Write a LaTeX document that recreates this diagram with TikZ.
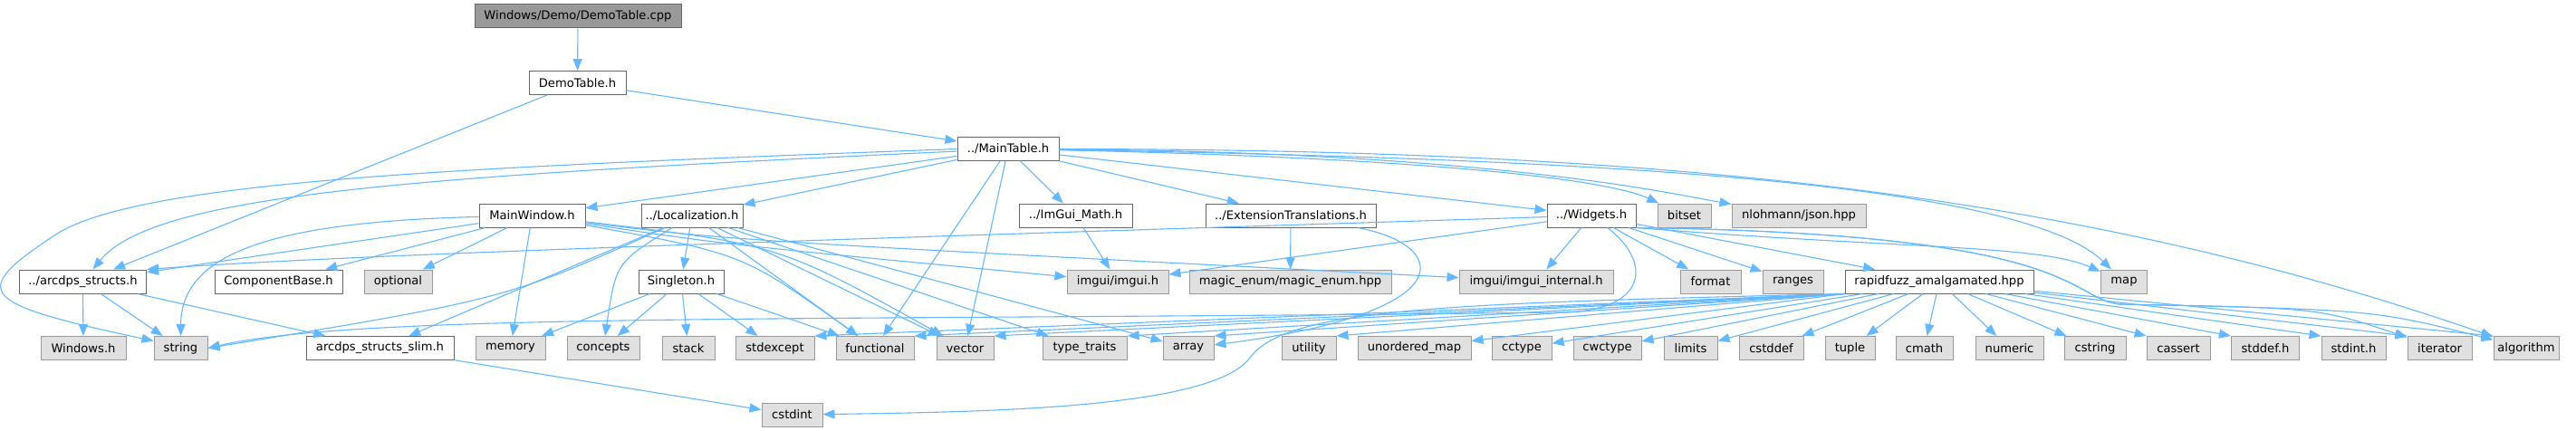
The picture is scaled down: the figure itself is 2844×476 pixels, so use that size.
\documentclass[tikz,border=0pt]{standalone}
\usepackage{fontspec}
\setmainfont{DejaVu Sans}
\usetikzlibrary{arrows.meta}
\definecolor{edgeblue}{HTML}{63B8FF}
\definecolor{hdrline}{HTML}{666666}
\definecolor{sysline}{HTML}{999999}
\definecolor{sysfill}{HTML}{E0E0E0}
\definecolor{rootfill}{HTML}{999999}
\begin{document}
\begin{tikzpicture}[x=1pt, y=-1pt,
box node/.style={rectangle, draw, line width=1pt, minimum height=26pt, inner sep=0pt, font=\fontsize{13.1}{15}\selectfont},
head node/.style={box node, draw=hdrline, fill=white},
sys node/.style={box node, draw=sysline, fill=sysfill},
root node/.style={box node, draw=hdrline, fill=rootfill},
inc/.style={draw=edgeblue, line width=1.1pt, -{Triangle[length=13pt,width=10pt]}}]%
\fill[white] (0,0) rectangle (2844,476);
\useasboundingbox (0,0) rectangle (2844,476);
\begin{scope}
\node[root node, minimum width=228] (cpp) at (638,18) {Windows/Demo/DemoTable.cpp};
\node[head node, minimum width=107] (demotable) at (637.5,91.5) {DemoTable.h};
\node[head node, minimum width=112] (maintable) at (1113,164.5) {../MainTable.h};
% row 3
\node[head node, minimum width=117] (mainwin) at (587.5,238) {MainWindow.h};
\node[head node, minimum width=112] (loc) at (764,238) {../Localization.h};
\node[head node, minimum width=125] (imguimath) at (1187.5,238) {../ImGui\_Math.h};
\node[head node, minimum width=188] (exttrans) at (1425,238) {../ExtensionTranslations.h};
\node[head node, minimum width=98] (widgets) at (1757,238) {../Widgets.h};
\node[sys node, minimum width=59] (bitset) at (1859.5,238) {bitset};
\node[sys node, minimum width=148] (json) at (1986,238) {nlohmann/json.hpp};
% row 4
\node[head node, minimum width=140] (arcdps) at (91.5,311) {../arcdps\_structs.h};
\node[head node, minimum width=141] (compbase) at (307.5,311) {ComponentBase.h};
\node[sys node, minimum width=75] (optional) at (439.5,311) {optional};
\node[head node, minimum width=94] (singleton) at (752,311) {Singleton.h};
\node[sys node, minimum width=112] (imgui) at (1234,311) {imgui/imgui.h};
\node[sys node, minimum width=223] (magicenum) at (1424.5,311) {magic\_enum/magic\_enum.hpp};
\node[sys node, minimum width=170] (imguiint) at (1696,311) {imgui/imgui\_internal.h};
\node[sys node, minimum width=67] (format) at (1888.5,311) {format};
\node[sys node, minimum width=67] (ranges) at (1979.5,311) {ranges};
\node[head node, minimum width=208] (rapidfuzz) at (2141,311) {rapidfuzz\_amalgamated.hpp};
\node[sys node, minimum width=51] (map) at (2345,311) {map};
% row 5
\node[sys node, minimum width=94] (windowsh) at (92,384.5) {Windows.h};
\node[sys node, minimum width=59] (string) at (199.5,384.5) {string};
\node[head node, minimum width=163] (slim) at (419.5,384.5) {arcdps\_structs\_slim.h};
\node[sys node, minimum width=77] (memory) at (563.5,384.5) {memory};
\node[sys node, minimum width=80] (concepts) at (666,384.5) {concepts};
\node[sys node, minimum width=58] (stack) at (760,384.5) {stack};
\node[sys node, minimum width=87] (stdexcept) at (855.5,384.5) {stdexcept};
\node[sys node, minimum width=86] (functional) at (966,384.5) {functional};
\node[sys node, minimum width=63] (vector) at (1065.5,384.5) {vector};
\node[sys node, minimum width=93] (typetraits) at (1197.5,384.5) {type\_traits};
\node[sys node, minimum width=56] (array) at (1312,384.5) {array};
\node[sys node, minimum width=60] (utility) at (1445,384.5) {utility};
\node[sys node, minimum width=125] (unorderedmap) at (1561.5,384.5) {unordered\_map};
\node[sys node, minimum width=66] (cctype) at (1680,384.5) {cctype};
\node[sys node, minimum width=75] (cwctype) at (1774.5,384.5) {cwctype};
\node[sys node, minimum width=59] (limits) at (1866.5,384.5) {limits};
\node[sys node, minimum width=71] (cstddef) at (1955.5,384.5) {cstddef};
\node[sys node, minimum width=55] (tuple) at (2042.5,384.5) {tuple};
\node[sys node, minimum width=63] (cmath) at (2124.5,384.5) {cmath};
\node[sys node, minimum width=75] (numeric) at (2218.5,384.5) {numeric};
\node[sys node, minimum width=68] (cstring) at (2313,384.5) {cstring};
\node[sys node, minimum width=70] (cassert) at (2405,384.5) {cassert};
\node[sys node, minimum width=75] (stddefh) at (2501,384.5) {stddef.h};
\node[sys node, minimum width=71] (stdinth) at (2598.5,384.5) {stdint.h};
\node[sys node, minimum width=71] (iterator) at (2693.5,384.5) {iterator};
\node[sys node, minimum width=72] (algorithm) at (2789,384.5) {algorithm};
% row 6
\node[sys node, minimum width=67] (cstdint) at (874.5,458) {cstdint};
\end{scope}
\begin{scope}
\draw[inc] (cpp) -- (demotable);
\draw[inc] (demotable) -- (maintable);
\draw[inc] (demotable) -- (arcdps);
% MainTable.h
\draw[inc] (maintable) -- (mainwin);
\draw[inc] (maintable) -- (loc);
\draw[inc] (maintable) -- (imguimath);
\draw[inc] (maintable) -- (exttrans);
\draw[inc] (maintable) -- (widgets);
\draw[inc] (maintable) .. controls (1600,175) and (1780,200) .. (bitset);
\draw[inc] (maintable) .. controls (1650,168) and (1850,215) .. (json);
\draw[inc] (maintable) .. controls (1750,175) and (2230,200) .. (map);
\draw[inc] (maintable) .. controls (1850,165) and (2300,215) .. (algorithm);
\draw[inc] (maintable) .. controls (450,195) and (170,215) .. (arcdps);
\draw[inc] (maintable.west) .. controls (500,185) and (150,200) .. (60,260) .. controls (-35,323) and (-25,335) .. (string.165);
\draw[inc] (maintable) -- (functional);
\draw[inc] (maintable) -- (vector);
% MainWindow.h
\draw[inc] (mainwin) -- (arcdps);
\draw[inc] (mainwin) -- (compbase);
\draw[inc] (mainwin) -- (optional);
\draw[inc] (mainwin) -- (memory);
\draw[inc] (mainwin) .. controls (300,245) and (200,280) .. (string);
\draw[inc] (mainwin) .. controls (800,270) .. (imgui);
\draw[inc] (mainwin) .. controls (800,265) .. (imguiint);
\draw[inc] (mainwin) .. controls (820,280) .. (functional);
\draw[inc] (mainwin) .. controls (860,270) .. (vector);
% Localization.h
\draw[inc] (loc) -- (singleton);
\draw[inc] (loc) -- (slim);
\draw[inc] (loc) .. controls (560,330) .. (string.east);
\draw[inc] (loc) .. controls (680,290) .. (concepts);
\draw[inc] (loc) -- (functional);
\draw[inc] (loc) -- (vector);
\draw[inc] (loc) -- (typetraits);
\draw[inc] (loc) -- (array);
% Singleton.h
\draw[inc] (singleton) -- (memory);
\draw[inc] (singleton) -- (concepts);
\draw[inc] (singleton) -- (stack);
\draw[inc] (singleton) -- (stdexcept);
\draw[inc] (singleton) -- (functional);
% arcdps_structs.h
\draw[inc] (arcdps) -- (windowsh);
\draw[inc] (arcdps) -- (string);
\draw[inc] (arcdps) -- (slim);
\draw[inc] (slim) -- (cstdint);
% ImGui_Math.h, ExtensionTranslations.h
\draw[inc] (imguimath) -- (imgui);
\draw[inc] (exttrans) -- (magicenum);
\draw[inc] (exttrans) .. controls (1600,270) and (1620,345) .. (array);
% Widgets.h
\draw[inc] (widgets) -- (imgui);
\draw[inc] (widgets) -- (imguiint);
\draw[inc] (widgets) -- (format);
\draw[inc] (widgets) -- (ranges);
\draw[inc] (widgets) -- (rapidfuzz);
\draw[inc] (widgets) .. controls (1000,262) and (400,280) .. (arcdps.north east);
\draw[inc] (widgets) .. controls (1825,290) and (1820,345) .. (1720,345) .. controls (900,355) and (400,345) .. (string.east);
\draw[inc] (widgets.south east) .. controls (2100,275) and (2250,270) .. (map);
\draw[inc] (widgets.south east) .. controls (2300,258) and (2280,328) .. (2340,336) .. controls (2560,340) .. (iterator);
\draw[inc] (widgets.south east) .. controls (2300,258) and (2280,328) .. (2340,336) .. controls (2620,342) .. (algorithm);
% rapidfuzz_amalgamated.hpp
\draw[inc] (rapidfuzz.south west) -- (stdexcept.north east);
\draw[inc] (rapidfuzz.south west) -- (functional.north east);
\draw[inc] (rapidfuzz.south west) -- (vector.north east);
\draw[inc] (rapidfuzz.south west) -- (typetraits.north east);
\draw[inc] (rapidfuzz.south west) -- (array.north east);
\draw[inc] (rapidfuzz.south west) -- (utility.north east);
\draw[inc] (rapidfuzz.south west) -- (unorderedmap);
\draw[inc] (rapidfuzz) -- (cctype);
\draw[inc] (rapidfuzz) -- (cwctype);
\draw[inc] (rapidfuzz) -- (limits);
\draw[inc] (rapidfuzz) -- (cstddef);
\draw[inc] (rapidfuzz) -- (tuple);
\draw[inc] (rapidfuzz) -- (cmath);
\draw[inc] (rapidfuzz) -- (numeric);
\draw[inc] (rapidfuzz) -- (cstring);
\draw[inc] (rapidfuzz) -- (cassert.north west);
\draw[inc] (rapidfuzz) -- (stddefh.north west);
\draw[inc] (rapidfuzz) -- (stdinth.north west);
\draw[inc] (rapidfuzz) -- (iterator.north west);
\draw[inc] (rapidfuzz) -- (algorithm.north west);
\draw[inc] (rapidfuzz.south west) .. controls (1600,335) and (1420,340) .. (1380,395) .. controls (1340,450) and (1100,455) .. (cstdint);
\end{scope}
\end{tikzpicture}
\end{document}
